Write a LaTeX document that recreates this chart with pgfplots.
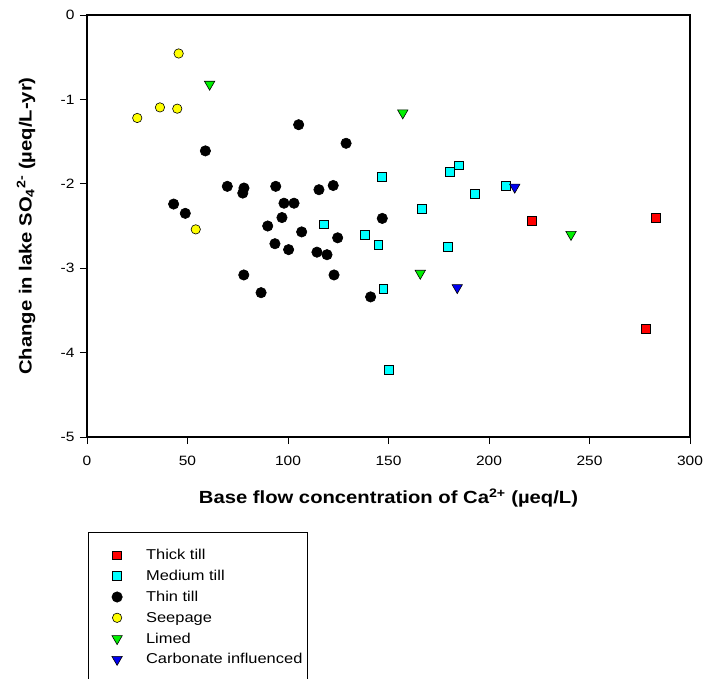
\documentclass[border=0pt]{standalone}
\usepackage{pgfplots}
\pgfplotsset{compat=1.18}
\usepackage{fontspec}
\setmainfont{Liberation Sans}[FakeStretch=1.15]
\definecolor{limegr}{RGB}{0,240,0}
\definecolor{carbblue}{RGB}{0,0,240}
\definecolor{cyanx}{RGB}{0,255,255}
\definecolor{redx}{RGB}{255,0,0}
\definecolor{yellowx}{RGB}{255,255,0}
\begin{document}
\begin{tikzpicture}[x=1pt,y=1pt]
\useasboundingbox (-87,-242) rectangle (619,437);
\begin{axis}[
  scale only axis, width=603pt, height=422pt,
  xmin=0, xmax=300, ymin=-5, ymax=0,
  xtick={0,50,100,150,200,250,300},
  xticklabels={0,50,100,150,200,250,300},
  ytick={-5,-4,-3,-2,-1,0},
  yticklabels={-5,-4,-3,-2,-1,0},
  tick align=outside, tick pos=left,
  major tick length=7pt,
  tick style={line width=0.8pt, black},
  axis line style={line width=1.9pt},
  ticklabel style={font=\fontsize{13.5}{16}\selectfont},
  xticklabel style={yshift=-9pt},
  yticklabel style={xshift=-2pt},
  xlabel={Base flow concentration of Ca\textsuperscript{2+} (µeq/L)},
  xlabel style={font=\bfseries\fontsize{17.6}{20}\selectfont, at={(axis description cs:0.5,-0.145)}, anchor=center},
  ylabel={Change in lake SO\textsubscript{4}\textsuperscript{2-} (µeq/L-yr)},
  ylabel style={font=\bfseries\fontsize{17.6}{20}\selectfont, at={(axis description cs:-0.101,0.5)}, anchor=center},
  legend style={
    at={(axis description cs:0.00166,-0.2251)}, anchor=north west,
    draw=black, line width=0.8pt, fill=white,
    inner xsep=4.7pt, inner ysep=12.6pt,
    row sep=0pt, column sep=15pt,
    font=\fontsize{14.3}{16}\selectfont,
    nodes={inner sep=0pt},
  },
  legend cell align=left,
  legend image code/.code={\path[draw=none,fill=none] (-24pt,-10.4pt) rectangle (14pt,10.4pt); \draw[#1] plot coordinates {(0pt,0pt)};},
]
% Thick till
\addplot[only marks, mark=square*, mark size=4.4pt, mark options={fill=redx, draw=black, line width=0.6pt}] table {
x y
221.2 -2.44
283.1 -2.40
278.1 -3.72
};
\addlegendentry{Thick till}
% Medium till
\addplot[only marks, mark=square*, mark size=4.4pt, mark options={fill=cyanx, draw=black, line width=0.6pt}] table {
x y
117.9 -2.48
138.3 -2.60
144.9 -2.72
146.8 -1.92
147.4 -3.24
150.2 -4.20
166.5 -2.30
179.6 -2.75
180.3 -1.86
184.9 -1.78
193.0 -2.12
208.5 -2.02
};
\addlegendentry{Medium till}
% Thin till
\addplot[only marks, mark=*, mark size=5.2pt, mark options={fill=black, draw=black, line width=0.6pt}] table {
x y
58.9 -1.61
105.3 -1.30
128.9 -1.52
69.8 -2.03
78.1 -2.05
77.5 -2.11
93.9 -2.03
115.4 -2.07
122.5 -2.02
43.1 -2.24
48.9 -2.35
98.0 -2.23
103.0 -2.23
97.0 -2.40
146.9 -2.41
89.9 -2.50
106.8 -2.57
124.7 -2.64
93.5 -2.71
100.3 -2.78
114.4 -2.81
119.4 -2.84
78.0 -3.08
122.9 -3.08
86.6 -3.29
141.1 -3.34
};
\addlegendentry{Thin till}
% Seepage
\addplot[only marks, mark=*, mark size=4.7pt, mark options={fill=yellowx, draw=black, line width=0.6pt}] table {
x y
25.0 -1.22
36.3 -1.095
44.9 -1.11
45.6 -0.456
54.1 -2.54
};
\addlegendentry{Seepage}
% Limed
\addplot[only marks, mark=triangle*, mark size=6pt, mark options={rotate=180, fill=limegr, draw=black, line width=0.6pt}] table {
x y
61.0 -0.82
157.1 -1.16
165.8 -3.06
240.8 -2.60
};
\addlegendentry{Limed}
% Carbonate influenced
\addplot[only marks, mark=triangle*, mark size=6pt, mark options={rotate=180, fill=carbblue, draw=black, line width=0.6pt}] table {
x y
212.8 -2.04
184.2 -3.23
};
\addlegendentry{Carbonate influenced}
\end{axis}
\end{tikzpicture}
\end{document}
